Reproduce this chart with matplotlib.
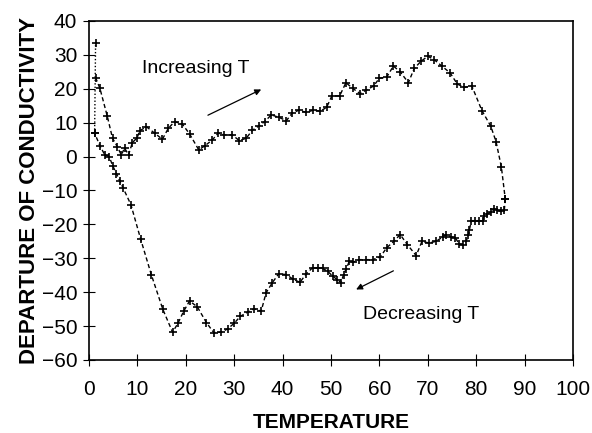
import matplotlib
matplotlib.use("Agg")
import matplotlib.pyplot as plt

plt.rcParams['font.family'] = ['Liberation Sans', 'DejaVu Sans']

# Increasing temperature branch
t_up = [1.4, 2.3, 3.8, 4.9, 5.9, 6.7, 7.4, 8.2, 9.0, 10.0, 10.5, 11.9, 13.6, 15.2,
        16.4, 17.7, 19.3, 20.8, 22.7, 23.9, 25.5, 26.7, 28.0, 29.6, 31.1, 32.5,
        33.8, 35.1, 36.3, 37.7, 39.2, 40.8, 42.0, 43.4, 44.9, 46.4, 47.8, 49.1,
        50.2, 51.8, 53.1, 54.5, 56.0, 57.3, 58.8, 60.0, 61.5, 62.9, 64.3, 66.0,
        67.2, 68.6, 70.0, 71.3, 72.9, 74.6, 76.1, 77.5, 79.1, 81.2, 83.0, 84.1,
        85.2, 86.0]
c_up = [23.3, 20.1, 12.0, 5.4, 2.9, 0.5, 2.5, 0.5, 4.1, 5.6, 7.6, 8.8, 6.9, 5.1,
        8.3, 10.3, 9.6, 6.7, 2.0, 3.1, 4.9, 6.9, 6.4, 6.4, 4.7, 5.4,
        7.8, 9.0, 10.3, 12.3, 11.6, 10.6, 12.8, 13.7, 13.0, 13.7, 13.4, 14.5,
        17.9, 17.9, 21.8, 20.1, 18.6, 19.6, 20.8, 23.1, 23.4, 26.7, 25.0, 21.8,
        26.0, 28.1, 29.6, 28.6, 26.7, 24.7, 21.4, 20.4, 20.8, 13.5, 9.0, 4.4,
        -3.1, -12.5]

# Decreasing temperature branch
t_down = [86.0, 85.8, 85.1, 84.3, 83.6, 83.0, 82.3, 81.6, 81.3, 80.6, 79.7, 79.0,
          78.6, 78.4, 77.9, 77.2, 76.5, 75.7, 74.8, 73.8, 73.1, 71.7, 70.3, 68.8,
          67.6, 65.8, 64.3, 63.0, 61.5, 60.2, 58.6, 57.3, 55.9, 54.5, 53.8, 53.1,
          52.6, 52.1, 51.3, 50.4, 49.3, 48.3, 47.3, 46.2, 44.9, 43.6, 42.1, 40.8,
          39.2, 37.9, 36.6, 35.6, 34.1, 32.8, 31.3, 30.0, 28.7, 27.4, 25.8, 24.3,
          22.4, 20.8, 19.6, 18.4, 17.3, 15.3, 12.9, 10.7, 8.7, 7.1, 6.4, 5.7, 5.0,
          4.2, 3.3, 2.3, 1.2]
c_down = [-12.5, -15.9, -16.2, -15.7, -15.4, -16.4, -16.9, -17.6, -18.9, -18.9, -18.9, -18.9,
          -21.6, -23.2, -25.0, -26.0, -25.8, -24.0, -23.7, -23.0, -23.7, -25.0, -25.5, -25.0,
          -29.2, -26.0, -23.0, -25.0, -26.9, -29.6, -30.4, -30.4, -30.4, -31.2, -30.9, -33.3,
          -34.8, -37.2, -36.3, -35.3, -33.8, -33.0, -32.8, -32.8, -34.6, -37.1, -36.1, -34.8,
          -34.6, -37.2, -40.2, -45.6, -44.9, -45.9, -47.1, -49.2, -50.8, -51.8, -51.9, -49.0,
          -44.3, -42.6, -45.6, -49.2, -51.8, -45.1, -34.8, -24.3, -14.2, -9.3, -7.2, -5.0, -2.9,
          0.0, 0.5, 3.2, 6.9]

# Dotted connector at the start
t_start = [1.2, 1.4]
c_start = [6.9, 33.4]

x_ticks = [0, 10, 20, 30, 40, 50, 60, 70, 80, 90, 100]
y_ticks = [-60, -50, -40, -30, -20, -10, 0, 10, 20, 30, 40]

fig = plt.figure(figsize=(5.92, 4.33), dpi=100)
ax = fig.add_axes([0.150, 0.1686, 0.818, 0.783])

dash = (0, (3, 2))
mk = dict(marker='+', markersize=6, markeredgewidth=1.2, color='black')
ax.plot(t_up, c_up, linestyle=dash, linewidth=1.0, **mk)
ax.plot(t_down, c_down, linestyle=dash, linewidth=1.0, **mk)
ax.plot(t_start, c_start, linestyle=(0, (1, 1.5)), linewidth=1.0, **mk)

ax.set_xlim(0, 100)
ax.set_ylim(-60, 40)
ax.set_xticks(x_ticks)
ax.set_yticks(y_ticks)
ax.tick_params(direction='inout', length=8.6, width=0.8, labelsize=15, colors='black')
ax.tick_params(axis='x', pad=10)
ax.tick_params(axis='y', pad=4)
for s in ax.spines.values():
    s.set_linewidth(1.2)

ax.set_xlabel('TEMPERATURE', fontsize=15, fontweight='bold', labelpad=10)
ax.set_ylabel('DEPARTURE OF CONDUCTIVITY', fontsize=16, fontweight='bold', labelpad=1)

ax.text(22.0, 26.1, 'Increasing T', fontsize=14, ha='center', va='center')
ax.text(68.6, -46.6, 'Decreasing T', fontsize=14, ha='center', va='center')
ax.annotate('', xy=(35.6, 19.8), xytext=(24.6, 12.2),
            arrowprops=dict(arrowstyle='-|>', color='black', lw=0.9,
                            mutation_scale=9, shrinkA=0, shrinkB=0))
ax.annotate('', xy=(55.2, -39.2), xytext=(62.9, -33.7),
            arrowprops=dict(arrowstyle='-|>', color='black', lw=0.9,
                            mutation_scale=9, shrinkA=0, shrinkB=0))

fig.savefig('out.png', dpi=100)
